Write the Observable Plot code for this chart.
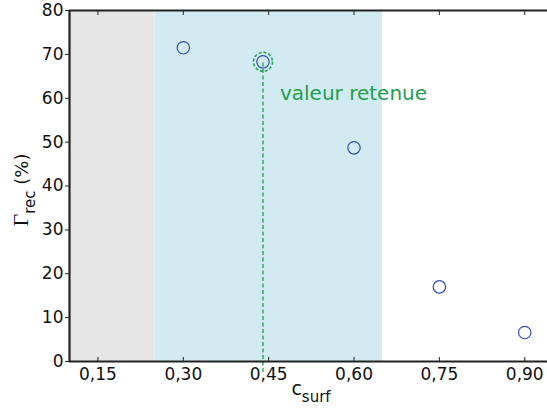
<!DOCTYPE html>
<html>
<head>
<meta charset="utf-8">
<script src="https://cdn.jsdelivr.net/npm/d3@7"></script>
<script src="https://cdn.jsdelivr.net/npm/@observablehq/plot@0.6"></script>
<style>
  html, body { margin: 0; padding: 0; background: #fff; }
  #chart svg { display: block; }
</style>
</head>
<body>
<div id="chart"></div>
<script>
// Data
const cSurf = [0.30, 0.44, 0.60, 0.75, 0.90];
const gammaRec = [71.5, 68.3, 48.7, 17.0, 6.6];
const xTicks = [0.15, 0.30, 0.45, 0.60, 0.75, 0.90];
const yTicks = [0, 10, 20, 30, 40, 50, 60, 70, 80];
const zoneGris = {x1: 0.10, x2: 0.25};
const zoneBleue = {x1: 0.25, x2: 0.65};
const retenuIndex = 1;
const annotation = "valeur retenue";

const points = cSurf.map((c, i) => ({c, g: gammaRec[i]}));
const retenu = [points[retenuIndex]];
const fmt = d => d3.format(".2f")(d).replace(".", ",");

const FONT = "DejaVu Sans, sans-serif";
const BLUE = "#2f52b0";
const GREEN = "#1f9e4e";

const plot = Plot.plot({
  width: 547,
  height: 410,
  marginLeft: 69,
  marginRight: 0,
  marginTop: 10,
  marginBottom: 49,
  style: {fontFamily: FONT, fontSize: "17px", color: "#111", background: "#fff"},
  x: {domain: [0.10, 0.94]},
  y: {domain: [0, 80]},
  marks: [
    Plot.rectX([zoneGris], {x1: "x1", x2: "x2", y1: 0, y2: 80, fill: "#e5e5e5"}),
    Plot.rectX([zoneBleue], {x1: "x1", x2: "x2", y1: 0, y2: 80, fill: "#d2ebf2"}),
    Plot.ruleX(retenu, {x: "c", y1: 0, y2: "g", stroke: GREEN, strokeWidth: 1.3, strokeDasharray: "4,2.5", insetTop: 11}),
    Plot.dot(retenu, {x: "c", y: "g", r: 9.5, stroke: GREEN, strokeWidth: 1.5, strokeDasharray: "3,2"}),
    Plot.dot(points, {x: "c", y: "g", r: 6.2, stroke: BLUE, strokeWidth: 1.2, fill: "none"}),
    Plot.text(retenu, {x: "c", y: "g", text: () => annotation, dx: 17, dy: 32, textAnchor: "start", fill: GREEN, fontSize: 20, fontFamily: FONT}),
    Plot.axisX(xTicks, {anchor: "bottom", tickSize: -4, tickPadding: 10, tickFormat: fmt, fontSize: 17, label: null, stroke: "#222"}),
    Plot.axisX(xTicks, {anchor: "top", tickSize: -4, tickFormat: () => "", label: null, stroke: "#222"}),
    Plot.axisY(yTicks, {anchor: "left", tickSize: 4, tickPadding: 2, tickFormat: d => String(d), fontSize: 17, label: null, stroke: "#222"}),
    Plot.ruleY([0, 80], {stroke: "#222", strokeWidth: 2.2}),
    Plot.ruleX([0.10], {stroke: "#222", strokeWidth: 2.2})
  ]
});

document.getElementById("chart").appendChild(plot);

// Axis titles with subscripts
const svg = d3.select(plot);
const yl = svg.append("text")
  .attr("transform", "translate(28,190) rotate(-90)")
  .attr("text-anchor", "middle")
  .attr("fill", "#111");
yl.append("tspan").attr("font-family", "Liberation Serif, DejaVu Serif, serif").attr("font-size", 22).text("Γ");
yl.append("tspan").attr("font-family", FONT).attr("font-size", 15).attr("dy", 7).text("rec");
yl.append("tspan").attr("font-family", FONT).attr("font-size", 18).attr("dy", -7).text(" (%)");

const xl = svg.append("text")
  .attr("x", 311).attr("y", 395)
  .attr("text-anchor", "middle")
  .attr("fill", "#111")
  .attr("font-family", FONT);
xl.append("tspan").attr("font-size", 19).text("c");
xl.append("tspan").attr("font-size", 15).attr("dy", 7).text("surf");
</script>
</body>
</html>
